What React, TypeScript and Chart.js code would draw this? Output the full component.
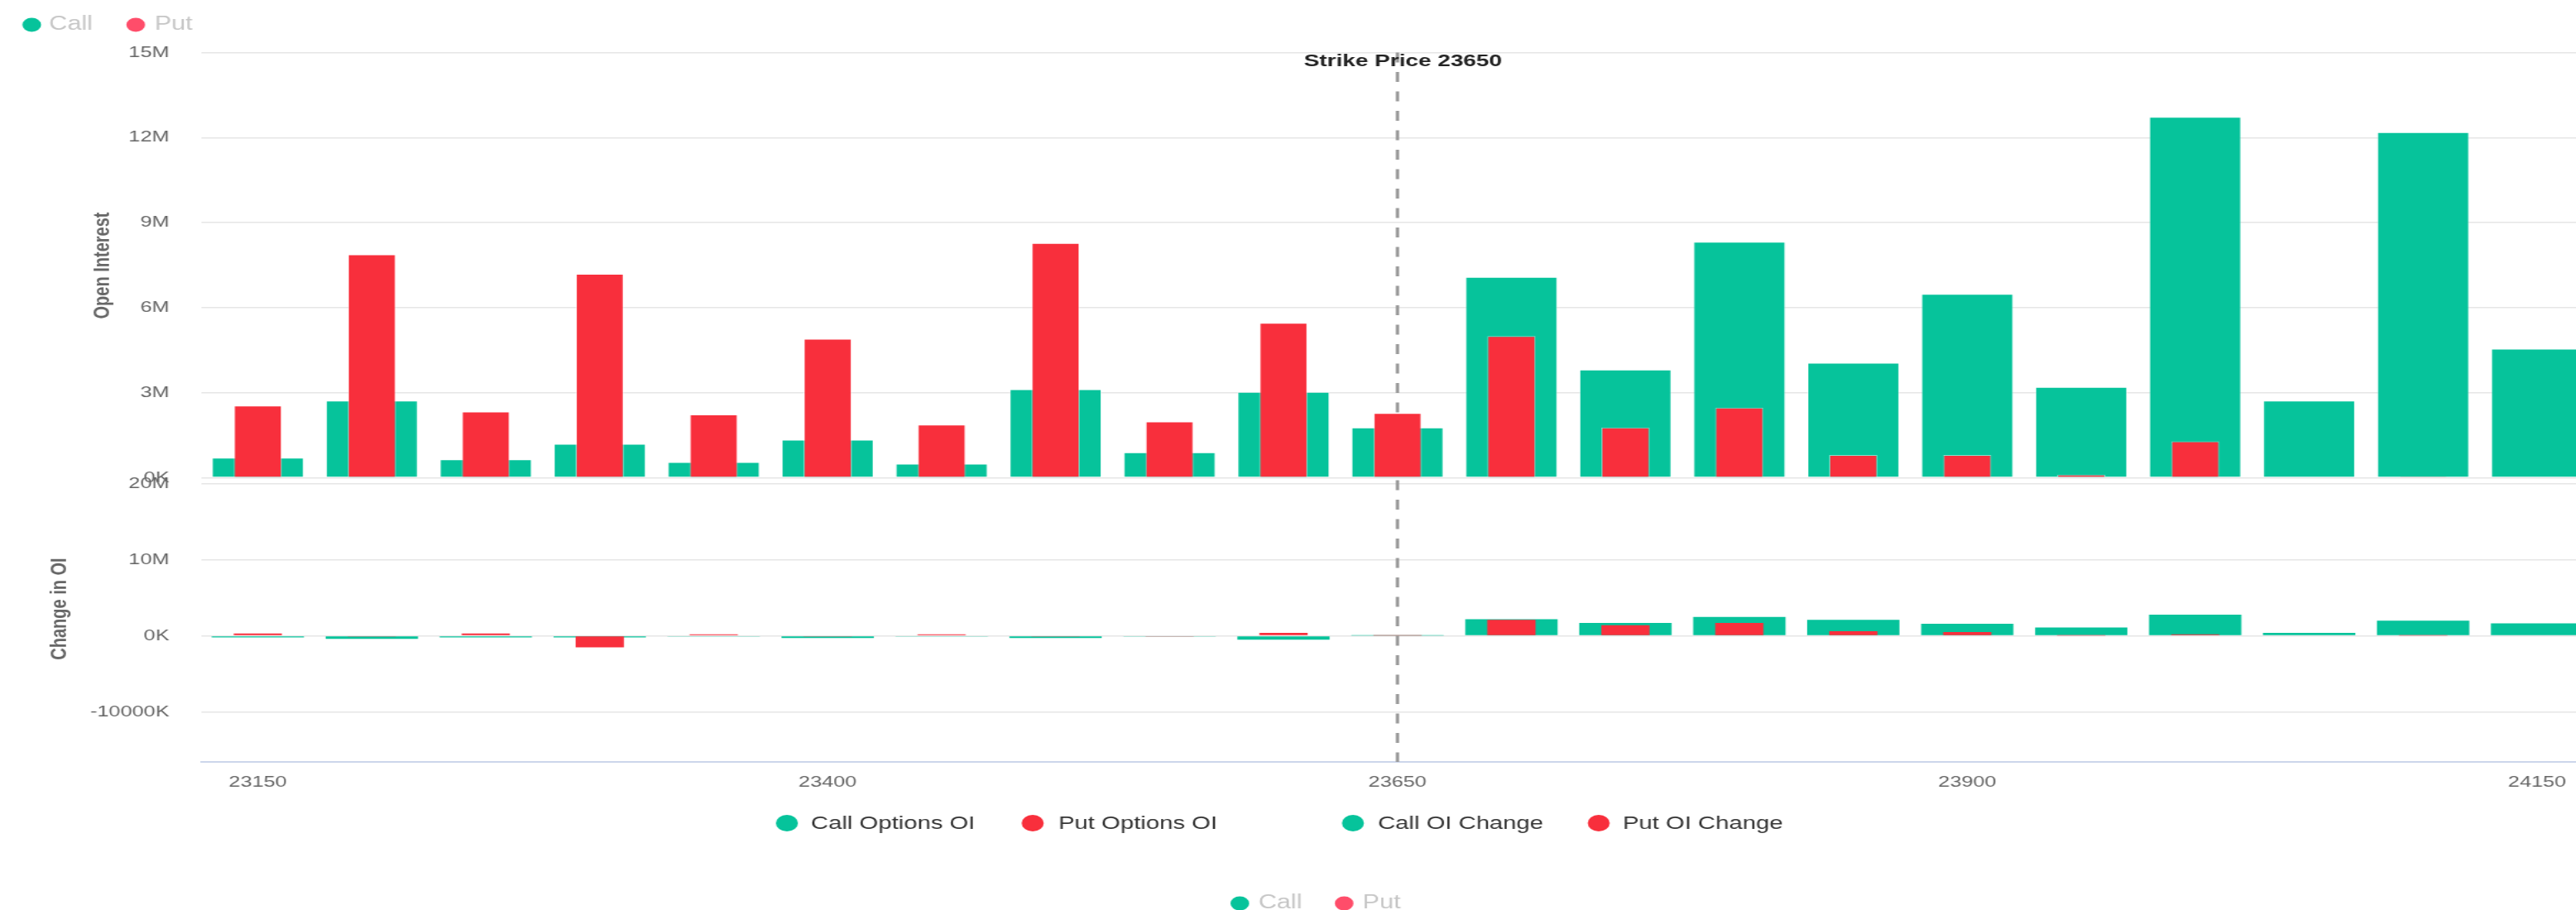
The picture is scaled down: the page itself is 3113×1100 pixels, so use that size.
import { useEffect, useRef } from 'react';
import { Chart, registerables } from 'chart.js';

Chart.register(...registerables);

// ---------------- data ----------------
const STRIKES = [
  23150, 23200, 23250, 23300, 23350, 23400, 23450, 23500, 23550, 23600,
  23650, 23700, 23750, 23800, 23850, 23900, 23950, 24000, 24050, 24100, 24150,
];
const CALL_OI = [
  700000, 2720000, 640000, 1190000, 550000, 1340000, 490000, 3120000, 890000, 3020000,
  1770000, 7080000, 3810000, 8320000, 4050000, 6480000, 3200000, 12730000, 2720000, 12190000, 4550000,
];
const PUT_OI = [
  2540000, 7880000, 2330000, 7190000, 2230000, 4900000, 1870000, 8280000, 1980000, 5460000,
  2280000, 4990000, 1770000, 2470000, 800000, 800000, 100000, 1280000, 0, 40000, 0,
];
const CALL_CHANGE = [
  -200000, -400000, -200000, -200000, -100000, -300000, -100000, -300000, -100000, -500000,
  50000, 2200000, 1700000, 2500000, 2100000, 1600000, 1100000, 2800000, 400000, 2000000, 1650000,
];
const PUT_CHANGE = [
  300000, -100000, 300000, -1500000, 200000, -100000, 200000, -100000, -100000, 400000,
  50000, 2100000, 1400000, 1700000, 600000, 500000, 50000, 200000, 0, 50000, 0,
];
const OI_TICKS = [0, 3000000, 6000000, 9000000, 12000000, 15000000];
const CHANGE_TICKS = [-10000000, 0, 10000000, 20000000];
const SPOT_STRIKE = 23650;
const LABEL_EVERY = 5;
const MAIN_LEGEND = ['Call Options OI', 'Put Options OI', 'Call OI Change', 'Put OI Change'];
const SIDE_LEGEND = ['Call', 'Put'];

// ---------------- look ----------------
const GREEN = '#06c39b';
const RED = '#f82f3c';
const PINK = '#ff4d6a';
const STRETCH = 1.33;
const W = 2357;
const H = 1100;
const AREA_LEFT = 182.5;
const AREA_TOP = 63.5;
const AREA_BOTTOM = 921;
const FONT = "'Liberation Sans', Arial, Helvetica, sans-serif";

const fmt = (v: number) => (v >= 1000000 ? `${v / 1000000}M` : `${v / 1000}K`);

const overlay = {
  id: 'overlay',
  beforeDatasetsDraw(chart: any) {
    const { ctx, chartArea, scales } = chart;
    const x = scales.x.getPixelForValue(STRIKES.indexOf(SPOT_STRIKE));
    ctx.save();
    ctx.strokeStyle = '#9a9a9a';
    ctx.lineWidth = 3;
    ctx.setLineDash([12, 11.5]);
    ctx.beginPath();
    ctx.moveTo(x, chartArea.top);
    ctx.lineTo(x, chartArea.bottom);
    ctx.stroke();
    ctx.restore();
  },
  afterDraw(chart: any) {
    const { ctx, scales } = chart;
    ctx.save();
    // strike label
    const sx = scales.x.getPixelForValue(STRIKES.indexOf(SPOT_STRIKE));
    ctx.font = `bold 21px ${FONT}`;
    ctx.fillStyle = '#222';
    ctx.textAlign = 'center';
    ctx.textBaseline = 'middle';
    ctx.fillText(`Strike Price ${SPOT_STRIKE}`, sx + 5, 74);

    // axis titles
    ctx.fillStyle = '#666';
    ctx.font = `bold 20px ${FONT}`;
    const vtitle = (t: string, x: number, y: number) => {
      ctx.save();
      ctx.translate(x, y);
      ctx.rotate(-Math.PI / 2);
      ctx.textAlign = 'center';
      ctx.textBaseline = 'middle';
      ctx.fillText(t, 0, 0);
      ctx.restore();
    };
    vtitle('Open Interest', 93.2, 321);
    vtitle('Change in OI', 54.5, 736);

    // side legends (top-left and bottom)
    const side = (cx1: number, tx1: number, cx2: number, tx2: number, y: number) => {
      ctx.font = `23px ${FONT}`;
      ctx.textAlign = 'left';
      ctx.textBaseline = 'middle';
      ctx.fillStyle = GREEN;
      ctx.beginPath();
      ctx.arc(cx1, y, 8.5, 0, Math.PI * 2);
      ctx.fill();
      ctx.fillStyle = PINK;
      ctx.beginPath();
      ctx.arc(cx2, y, 8.5, 0, Math.PI * 2);
      ctx.fill();
      ctx.fillStyle = '#c6c6c6';
      ctx.fillText(SIDE_LEGEND[0], tx1, y);
      ctx.fillText(SIDE_LEGEND[1], tx2, y);
    };
    side(28.8, 44.6, 123.3, 140.4, 30);
    side(1126.5, 1143.4, 1221.3, 1238.1, 1092);

    // main legend
    const circles = [715.0, 938.3, 1229.3, 1452.6];
    const texts = [736.8, 961.7, 1251.9, 1474.4];
    const cols = [GREEN, RED, GREEN, RED];
    ctx.font = `22px ${FONT}`;
    ctx.textAlign = 'left';
    ctx.textBaseline = 'middle';
    MAIN_LEGEND.forEach((t, i) => {
      ctx.fillStyle = cols[i];
      ctx.beginPath();
      ctx.arc(circles[i], 995, 10, 0, Math.PI * 2);
      ctx.fill();
      ctx.fillStyle = '#333';
      ctx.fillText(t, texts[i], 996);
    });
    ctx.restore();
  },
};

export default function App() {
  const ref = useRef<HTMLCanvasElement | null>(null);

  useEffect(() => {
    if (!ref.current) return;
    Chart.defaults.font.family = FONT;
    const oiBar = {
      categoryPercentage: 1,
      grouped: false,
      borderWidth: 1,
      borderColor: 'rgba(255,255,255,0.5)',
    };
    const chgBar = {
      categoryPercentage: 1,
      grouped: false,
      borderWidth: 0,
    };
    const tickFont = { size: 19 };
    const chart = new Chart(ref.current, {
      type: 'bar',
      data: {
        labels: STRIKES.map(String),
        datasets: [
          { ...oiBar, label: MAIN_LEGEND[0], data: CALL_OI, yAxisID: 'y', backgroundColor: GREEN, barPercentage: 0.81, order: 2 },
          { ...oiBar, label: MAIN_LEGEND[1], data: PUT_OI, yAxisID: 'y', backgroundColor: RED, barPercentage: 0.423, order: 1 },
          { ...chgBar, label: MAIN_LEGEND[2], data: CALL_CHANGE, yAxisID: 'y2', backgroundColor: GREEN, barPercentage: 0.81, order: 2 },
          { ...chgBar, label: MAIN_LEGEND[3], data: PUT_CHANGE, yAxisID: 'y2', backgroundColor: RED, barPercentage: 0.423, order: 1 },
        ] as any,
      },
      options: {
        responsive: false,
        animation: false,
        layout: { padding: { top: AREA_TOP, left: 0, right: 0, bottom: 0 } },
        plugins: { legend: { display: false }, tooltip: { enabled: false } },
        scales: {
          x: {
            type: 'category',
            position: 'bottom',
            offset: true,
            grid: { display: false, drawTicks: false },
            border: { display: true, color: '#ccd6eb', width: 2 },
            ticks: {
              autoSkip: false,
              maxRotation: 0,
              minRotation: 0,
              padding: 13,
              color: '#666',
              font: tickFont,
              callback: (_v: any, i: number) => (i % LABEL_EVERY === 0 ? String(STRIKES[i]) : ''),
            },
            afterFit: (s: any) => {
              s.height = H - AREA_BOTTOM;
            },
          },
          y: {
            type: 'linear',
            position: 'left',
            stack: 'panels',
            stackWeight: 521.5,
            weight: 1,
            min: -225000,
            max: 15000000,
            afterBuildTicks: (s: any) => {
              s.ticks = OI_TICKS.map((v) => ({ value: v }));
            },
            afterFit: (s: any) => {
              s.width = AREA_LEFT;
            },
            grid: { color: '#e6e6e6', lineWidth: 1.5, drawTicks: false },
            border: { display: false },
            ticks: { padding: 28.7, color: '#666', font: tickFont, callback: (v: any) => fmt(Number(v)) },
          },
          y2: {
            type: 'linear',
            position: 'left',
            stack: 'panels',
            stackWeight: 336,
            weight: 0,
            min: -16600000,
            max: 20000000,
            afterBuildTicks: (s: any) => {
              s.ticks = CHANGE_TICKS.map((v) => ({ value: v }));
            },
            afterFit: (s: any) => {
              s.width = AREA_LEFT;
            },
            grid: { color: '#e6e6e6', lineWidth: 1.5, drawTicks: false },
            border: { display: false },
            ticks: { padding: 28.7, color: '#666', font: tickFont, callback: (v: any) => fmt(Number(v)) },
          },
        } as any,
      },
      plugins: [overlay],
    });
    return () => chart.destroy();
  }, []);

  return (
    <div style={{ position: 'fixed', left: 0, top: 0, width: 3113, height: 1100, overflow: 'hidden', background: '#fff' }}>
      <div style={{ width: W, height: H, transform: `scaleX(${STRETCH})`, transformOrigin: '0 0' }}>
        <canvas ref={ref} width={W} height={H} style={{ display: 'block', width: W, height: H }} />
      </div>
    </div>
  );
}
